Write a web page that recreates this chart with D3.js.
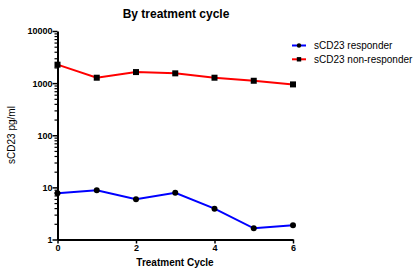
<!DOCTYPE html>
<html>
<head>
<meta charset="utf-8">
<script src="https://cdn.jsdelivr.net/npm/d3@7"></script>
<style>
  body { margin: 0; background: #fff; }
  text { font-family: "Liberation Sans", Arial, sans-serif; }
</style>
</head>
<body>
<div id="chart"></div>
<script>
const cycles = [0, 1, 2, 3, 4, 5, 6];
const responder = [7.7, 8.8, 5.9, 7.9, 3.9, 1.64, 1.87];
const nonResponder = [2260, 1270, 1630, 1540, 1270, 1110, 945];
const xTicks = [0, 2, 4, 6];
const yTicks = [1, 10, 100, 1000, 10000];

const width = 417, height = 274;
const margin = {left: 57.5, right: 124, top: 31, bottom: 34.5};

const x = d3.scaleLinear().domain([0, 6]).range([margin.left, width - margin.right]);
const y = d3.scaleLog().domain([1, 10000]).range([height - margin.bottom, margin.top]);

const svg = d3.select("#chart").append("svg")
  .attr("width", width).attr("height", height);

// minor log ticks
const minor = [];
for (let p = 0; p < 4; p++) for (let k = 2; k <= 9; k++) minor.push(k * Math.pow(10, p));

svg.append("g")
  .attr("transform", `translate(${margin.left},0)`)
  .call(d3.axisLeft(y).tickValues(minor).tickSize(3).tickFormat(""))
  .call(g => g.select(".domain").remove())
  .selectAll("line").attr("stroke", "#000").attr("stroke-width", 1.2);

const yAxis = svg.append("g")
  .attr("transform", `translate(${margin.left},0)`)
  .call(d3.axisLeft(y).tickValues(yTicks).tickSize(5).tickSizeOuter(0).tickFormat(d3.format("d")));
yAxis.select(".domain").attr("stroke-width", 2);
yAxis.selectAll("line").attr("stroke-width", 1.5);
yAxis.selectAll("text").attr("font-size", 9).attr("font-weight", "bold").attr("fill", "#000").attr("x", -5);

const xAxis = svg.append("g")
  .attr("transform", `translate(0,${height - margin.bottom})`)
  .call(d3.axisBottom(x).tickValues(xTicks).tickSize(4).tickSizeOuter(0).tickFormat(d3.format("d")));
xAxis.select(".domain").attr("stroke-width", 2);
xAxis.selectAll("line").attr("stroke-width", 1.5);
xAxis.selectAll("text").attr("font-size", 9).attr("font-weight", "bold").attr("fill", "#000").attr("dy", "0.55em");

const series = [
  {name: "sCD23 responder", values: responder, color: "#0000ff", marker: "circle"},
  {name: "sCD23 non-responder", values: nonResponder, color: "#ff0000", marker: "square"}
];

const line = d3.line().x((d, i) => x(cycles[i])).y(d => y(d));

function drawMarker(g, type, r) {
  if (type === "circle") {
    g.append("circle").attr("r", r).attr("fill", "#000");
  } else {
    g.append("rect").attr("x", -r).attr("y", -r).attr("width", 2 * r).attr("height", 2 * r).attr("fill", "#000");
  }
}

series.forEach(s => {
  svg.append("path")
    .datum(s.values)
    .attr("fill", "none")
    .attr("stroke", s.color)
    .attr("stroke-width", 2)
    .attr("d", line);
  s.values.forEach((v, i) => {
    const g = svg.append("g").attr("transform", `translate(${x(cycles[i])},${y(v)})`);
    drawMarker(g, s.marker, 3);
  });
});

// legend
const legend = svg.append("g").attr("transform", "translate(292,45.5)");
series.forEach((s, i) => {
  const row = legend.append("g").attr("transform", `translate(0,${i * 13.8})`);
  row.append("line").attr("x1", 0).attr("x2", 14).attr("stroke", s.color).attr("stroke-width", 2);
  const m = row.append("g").attr("transform", "translate(7,0)");
  drawMarker(m, s.marker, 2.2);
  row.append("text").attr("x", 22).attr("dy", "0.35em").attr("font-size", 10).text(s.name);
});

// title & axis labels
svg.append("text").attr("x", 176).attr("y", 18).attr("text-anchor", "middle")
  .attr("font-size", 12).attr("font-weight", "bold").text("By treatment cycle");

svg.append("text").attr("x", 175).attr("y", 266).attr("text-anchor", "middle")
  .attr("font-size", 10).attr("font-weight", "bold").text("Treatment Cycle");

svg.append("text").attr("transform", "translate(15,135) rotate(-90)").attr("text-anchor", "middle")
  .attr("font-size", 10).text("sCD23 pg/ml");
</script>
</body>
</html>
